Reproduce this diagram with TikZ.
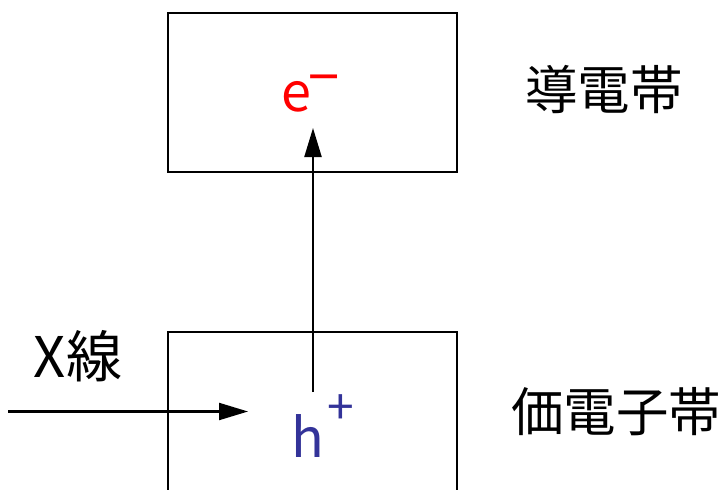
\documentclass[tikz,border=0pt]{standalone}
\usepackage{fontspec}
\setmainfont{Noto Sans CJK JP}
\usetikzlibrary{arrows.meta}
\definecolor{holeblue}{RGB}{51,51,153}
\begin{document}
\begin{tikzpicture}[
  x=1pt, y=-1pt,
  band/.style={draw=black, line width=2.4pt},
  carrier/.style={font=\fontsize{54}{60}\selectfont, inner sep=0pt},
  label/.style={font=\fontsize{52.5}{58}\selectfont, inner sep=0pt},
  beam/.style={line width=2.2pt, -{Triangle[length=29pt, width=17pt]}}
]
  \useasboundingbox (0,0) rectangle (724,490);

  % Conduction band
  \node[band, minimum width=289pt, minimum height=159pt] (cband)
    at (312.5, 92.5) {};
  \node[carrier, text=red] (elec) at (296, 97) {e};
  \node[carrier, text=red, font=\fontsize{56}{60}\selectfont] (minus)
    at (324, 86) {−};
  \node[label] (cblabel) at (604, 89) {導電帯};

  % Valence band (open at the bottom)
  \coordinate (vbl) at (168, 492);
  \coordinate (vbr) at (457, 492);
  \draw[band] (vbl) |- (312.5, 332) -| (vbr);
  \node[carrier, text=holeblue] (hole) at (308, 436) {h};
  \node[carrier, text=holeblue, font=\fontsize{48}{52}\selectfont] (plus)
    at (340.5, 410) {+};
  \node[label] (vblabel) at (616, 412) {価電子帯};

  % Excitation arrow
  \coordinate (up start) at (313, 392);
  \coordinate (up end) at (313, 128);
  \draw[beam] (up start) -- (up end);

  % Incoming X-ray
  \node[label, font=\fontsize{56}{60}\selectfont] (xray) at (78, 356) {X線};
  \coordinate (x start) at (8, 411.5);
  \coordinate (x end) at (248, 411.5);
  \draw[beam] (x start) -- (x end);
\end{tikzpicture}
\end{document}
